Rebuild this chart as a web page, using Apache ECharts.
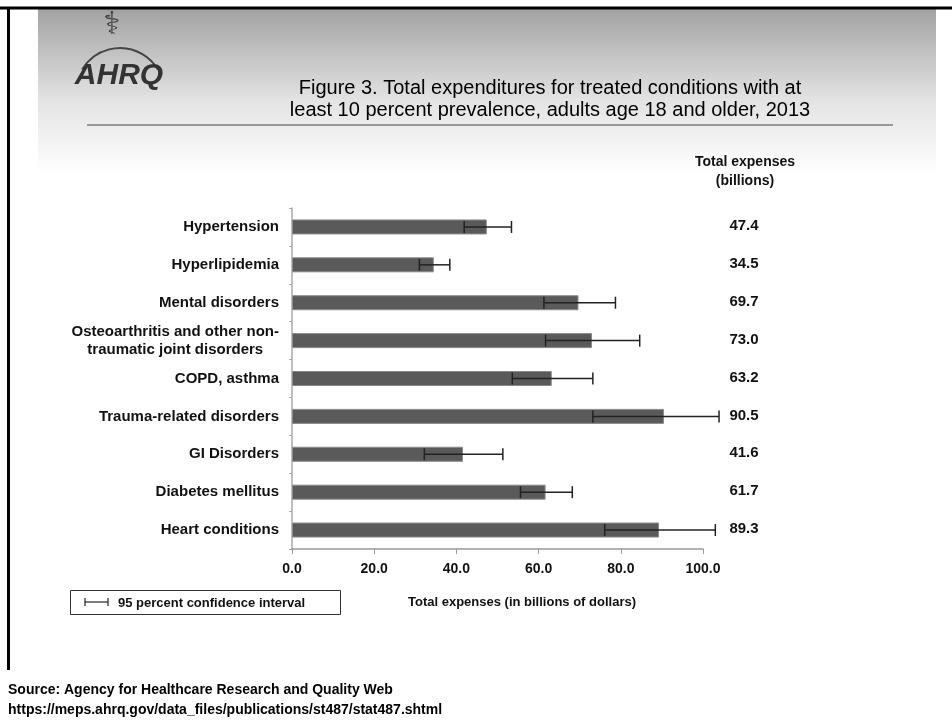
<!DOCTYPE html>
<html>
<head>
<meta charset="utf-8">
<script src="https://cdn.jsdelivr.net/npm/echarts@6/dist/echarts.min.js"></script>
<style>
html,body{margin:0;padding:0;background:#fff;}
#c{width:952px;height:721px;}
</style>
</head>
<body>
<div id="c"></div>
<script>
var categories = ["Hypertension","Hyperlipidemia","Mental disorders","Osteoarthritis and other non-\ntraumatic joint disorders","COPD, asthma","Trauma-related disorders","GI Disorders","Diabetes mellitus","Heart conditions"];
var totals = [47.4, 34.5, 69.7, 73.0, 63.2, 90.5, 41.6, 61.7, 89.3];
var ciLow = [41.9, 31.0, 61.3, 61.7, 53.6, 73.2, 32.2, 55.6, 76.1];
var ciHigh = [53.4, 38.4, 78.7, 84.6, 73.2, 103.9, 51.3, 68.2, 103.0];
var xTicks = [0, 20, 40, 60, 80, 100];

var chart = echarts.init(document.getElementById('c'));
var FONT = "'Liberation Sans', Arial, sans-serif";

var errData = categories.map(function(c, i){ return [i, ciLow[i], ciHigh[i]]; });
var valData = categories.map(function(c, i){ return [i, totals[i]]; });

var option = {
  animation: false,
  backgroundColor: '#ffffff',
  textStyle: {fontFamily: FONT},
  grid: {left: 292, right: 249, top: 208, bottom: 172},
  xAxis: {
    type: 'value', min: 0, max: 100, interval: 20,
    axisLine: {show: true, lineStyle: {color: '#999', width: 1.5}},
    axisTick: {show: true, length: 5, lineStyle: {color: '#999'}},
    splitLine: {show: false},
    axisLabel: {
      margin: 13, color: '#111', fontWeight: 'bold', fontSize: 14, fontFamily: FONT,
      formatter: function(v){ return xTicks.indexOf(v) >= 0 ? v.toFixed(1) : ''; }
    }
  },
  yAxis: {
    type: 'category', data: categories, inverse: true,
    axisLine: {show: true, lineStyle: {color: '#aaa', width: 1.5}},
    axisTick: {show: true, length: 3, alignWithLabel: false, lineStyle: {color: '#aaa'}},
    axisLabel: {
      margin: 13, color: '#111', fontSize: 15, fontWeight: 'bold', fontFamily: FONT,
      formatter: function(v){ return v.indexOf('\n') >= 0 ? '{m|' + v + '}' : v; },
      rich: {m: {align: 'center', fontSize: 15, fontWeight: 'bold', lineHeight: 18, color: '#111', fontFamily: FONT}}
    }
  },
  series: [
    {
      type: 'bar', data: totals, barWidth: 15,
      itemStyle: {color: '#5a5a5a', borderColor: '#8a8a8a', borderWidth: 1}
    },
    {
      type: 'custom', data: errData, z: 5,
      renderItem: function(params, api){
        var idx = api.value(0);
        var p1 = api.coord([api.value(1), idx]);
        var p2 = api.coord([api.value(2), idx]);
        var h = 6;
        var st = {stroke: '#222', lineWidth: 1.5};
        return {type: 'group', children: [
          {type: 'line', shape: {x1: p1[0], y1: p1[1], x2: p2[0], y2: p2[1]}, style: st},
          {type: 'line', shape: {x1: p1[0], y1: p1[1]-h, x2: p1[0], y2: p1[1]+h}, style: st},
          {type: 'line', shape: {x1: p2[0], y1: p2[1]-h, x2: p2[0], y2: p2[1]+h}, style: st}
        ]};
      },
      encode: {x: [1, 2], y: 0}
    },
    {
      type: 'custom', data: valData, z: 5,
      renderItem: function(params, api){
        var idx = api.value(0);
        var p = api.coord([0, idx]);
        return {type: 'text', x: 744, y: p[1] - 1, style: {
          text: api.value(1).toFixed(1), align: 'center', verticalAlign: 'middle',
          fontSize: 15, fontWeight: 'bold', fill: '#111', fontFamily: FONT
        }};
      },
      encode: {x: 1, y: 0}
    }
  ],
  graphic: [
    {type: 'rect', z: -10, shape: {x: 38, y: 9, width: 898, height: 165},
      style: {fill: {type: 'linear', x: 0, y: 0, x2: 0, y2: 1, colorStops: [
        {offset: 0, color: '#a2a2a2'}, {offset: 0.55, color: '#e3e3e3'}, {offset: 1, color: '#ffffff'}]}}},
    {type: 'line', shape: {x1: 0, y1: 8, x2: 952, y2: 8}, style: {stroke: '#000', lineWidth: 3}},
    {type: 'line', shape: {x1: 8.5, y1: 7, x2: 8.5, y2: 670}, style: {stroke: '#000', lineWidth: 3}},
    {type: 'line', shape: {x1: 87, y1: 125, x2: 893, y2: 125}, style: {stroke: '#999', lineWidth: 2}},
    // logo
    {type: 'arc', shape: {cx: 120, cy: 92, r: 44, startAngle: Math.PI*1.17, endAngle: Math.PI*1.83}, style: {stroke: '#444', lineWidth: 2, fill: null}},
    {type: 'text', x: 119, y: 76, style: {text: 'AHRQ', align: 'center', verticalAlign: 'middle', fontSize: 30, fontWeight: 900, fontStyle: 'italic', fill: '#333', fontFamily: FONT}},
    {type: 'text', x: 112, y: 26, style: {text: '\u2695', align: 'center', verticalAlign: 'middle', fontSize: 32, fill: '#444', fontFamily: "'DejaVu Sans', sans-serif"}},
    // title
    {type: 'text', x: 550, y: 88, style: {text: 'Figure 3. Total expenditures for treated conditions with at', align: 'center', verticalAlign: 'middle', fontSize: 20, fill: '#000', fontFamily: "'Liberation Sans Narrow', 'Arial Narrow', 'Liberation Sans', sans-serif"}},
    {type: 'text', x: 550, y: 110, style: {text: 'least 10 percent prevalence, adults age 18 and older, 2013', align: 'center', verticalAlign: 'middle', fontSize: 20, fill: '#000', fontFamily: "'Liberation Sans Narrow', 'Arial Narrow', 'Liberation Sans', sans-serif"}},
    // header
    {type: 'text', x: 745, y: 172, style: {text: 'Total expenses\n(billions)', align: 'center', verticalAlign: 'middle', lineHeight: 19, fontSize: 14, fontWeight: 'bold', fill: '#111', fontFamily: FONT}},
    // x axis title
    {type: 'text', x: 522, y: 602, style: {text: 'Total expenses (in billions of dollars)', align: 'center', verticalAlign: 'middle', fontSize: 13, fontWeight: 'bold', fill: '#111', fontFamily: FONT}},
    // legend
    {type: 'rect', shape: {x: 70.5, y: 590.5, width: 270, height: 24}, style: {fill: '#fff', stroke: '#333', lineWidth: 1}},
    {type: 'line', shape: {x1: 85, y1: 602, x2: 108, y2: 602}, style: {stroke: '#222', lineWidth: 1.2}},
    {type: 'line', shape: {x1: 85, y1: 598, x2: 85, y2: 606}, style: {stroke: '#222', lineWidth: 1.2}},
    {type: 'line', shape: {x1: 108, y1: 598, x2: 108, y2: 606}, style: {stroke: '#222', lineWidth: 1.2}},
    {type: 'text', x: 118, y: 603, style: {text: '95 percent confidence interval', align: 'left', verticalAlign: 'middle', fontSize: 13, fontWeight: 'bold', fill: '#111', fontFamily: FONT}},
    // source
    {type: 'text', x: 8, y: 690, style: {text: 'Source: Agency for Healthcare Research and Quality Web', align: 'left', verticalAlign: 'middle', fontSize: 14, fontWeight: 'bold', fill: '#000', fontFamily: FONT}},
    {type: 'text', x: 8, y: 710, style: {text: 'https://meps.ahrq.gov/data_files/publications/st487/stat487.shtml', align: 'left', verticalAlign: 'middle', fontSize: 14, fontWeight: 'bold', fill: '#000', fontFamily: FONT}}
  ]
};
chart.setOption(option);
</script>
</body>
</html>
